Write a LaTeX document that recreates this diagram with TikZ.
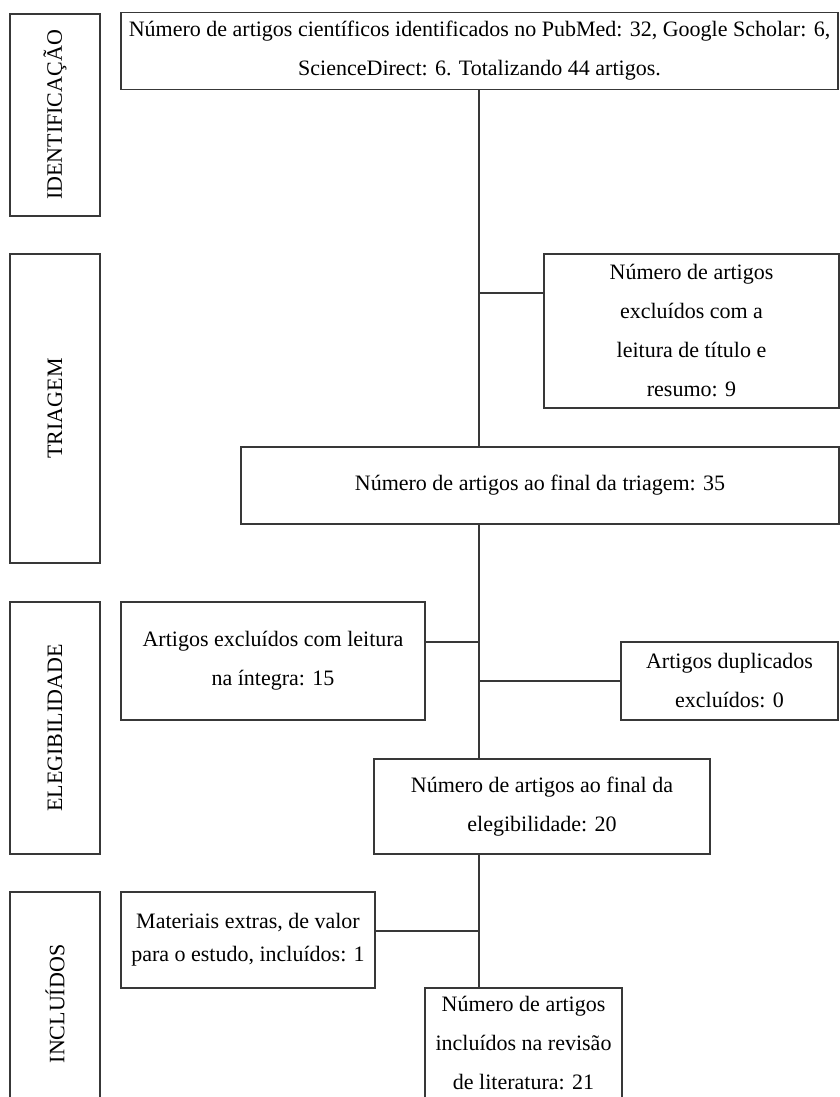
\documentclass[tikz,border=0pt]{standalone}
\usepackage{fontspec}
\setmainfont{Liberation Serif}
\begin{document}
\begin{tikzpicture}[x=1pt,y=-1pt,
  lbox/.style={draw=black!78, line width=1.4pt, inner sep=0pt, align=center,
    font=\fontsize{22}{39}\selectfont, text=black},
  stagebox/.style={lbox, rotate=90},
  conn/.style={draw=black!78, line width=1.3pt}]
\useasboundingbox[fill=white] (0,0) rectangle (840,1097);

% stage boxes
\node[stagebox, minimum width=202, minimum height=90] (sid) at (55,115) {IDENTIFICAÇÃO};
\node[stagebox, minimum width=309, minimum height=90] (str) at (55,408.5) {TRIAGEM};
\node[stagebox, minimum width=252, minimum height=90] (sel) at (55,728) {ELEGIBILIDADE};
\node[stagebox, minimum width=224, minimum height=90] (sin) at (55,1004) {INCLUÍDOS};

% flow boxes
\node[lbox, minimum width=717, minimum height=77] (top) at (479.5,51)
  {Número de artigos científicos identificados no PubMed: 32, Google Scholar: 6,\\ScienceDirect: 6. Totalizando 44 artigos.};
\node[lbox, minimum width=295, minimum height=154] (exc1) at (691.5,331)
  {Número de artigos\\excluídos com a\\leitura de título e\\resumo: 9};
\node[lbox, minimum width=598, minimum height=77] (tri) at (540,485.5)
  {Número de artigos ao final da triagem: 35};
\node[lbox, minimum width=304, minimum height=118] (exc2) at (273,661)
  {Artigos excluídos com leitura\\na íntegra: 15};
\node[lbox, minimum width=217, minimum height=78] (dup) at (729.5,681)
  {Artigos duplicados\\excluídos: 0};
\node[lbox, minimum width=336, minimum height=95] (eleg) at (542,806.5)
  {Número de artigos ao final da\\elegibilidade: 20};
\node[lbox, minimum width=254, minimum height=96, font=\fontsize{22}{33}\selectfont] (mat) at (248,940)
  {Materiais extras, de valor\\para o estudo, incluídos: 1};
\node[lbox, minimum width=197, minimum height=110] (fin) at (523.5,1043)
  {Número de artigos\\incluídos na revisão\\de literatura: 21};

% spine and junctions
\coordinate (spine) at (479,0);
\coordinate (j1) at (479,293);
\coordinate (j2) at (479,642);
\coordinate (j3) at (479,681);
\coordinate (j4) at (479,931);

\draw[conn] (top.south -| spine) -- (tri.north -| spine);
\draw[conn] (tri.south -| spine) -- (eleg.north -| spine);
\draw[conn] (eleg.south -| spine) -- (fin.north -| spine);

\draw[conn] (j1) -- (j1 -| exc1.west);
\draw[conn] (j2 -| exc2.east) -- (j2);
\draw[conn] (j3) -- (dup.west);
\draw[conn] (j4 -| mat.east) -- (j4);
\end{tikzpicture}
\end{document}
